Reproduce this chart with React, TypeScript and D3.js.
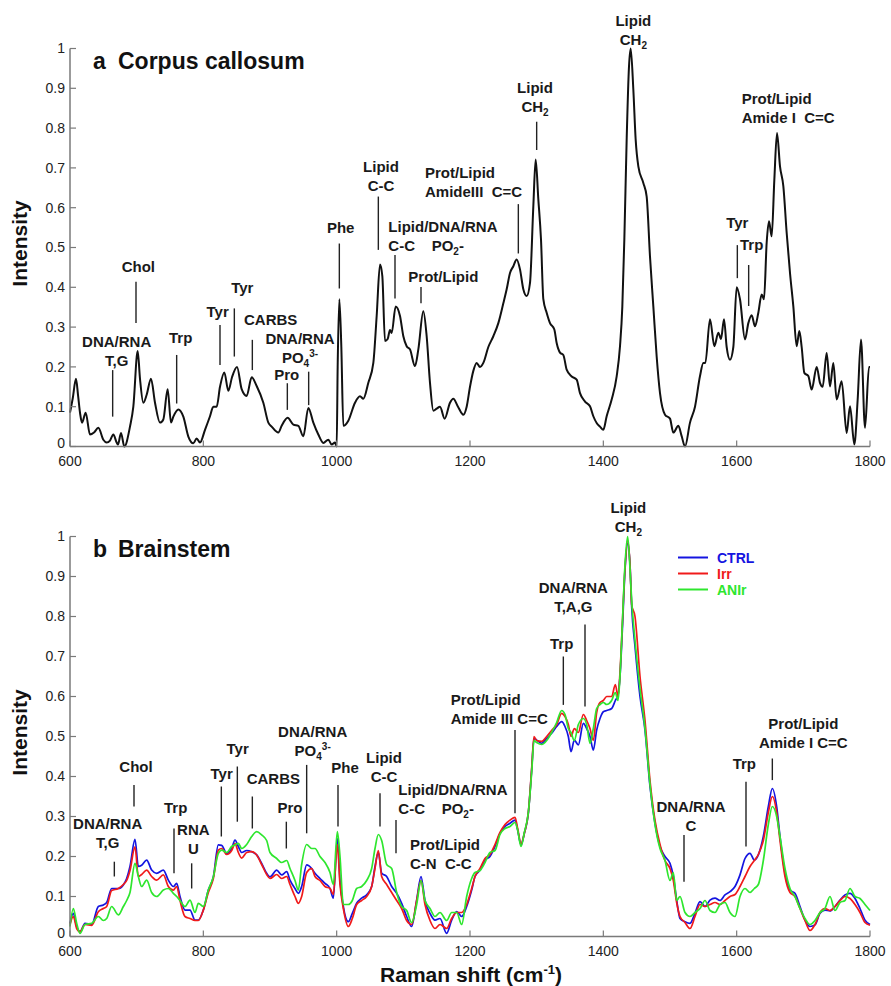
import React from 'react';
import * as d3 from 'd3';

// ---- axes ----
const shiftTicks = [600, 800, 1000, 1200, 1400, 1600, 1800];
const intensityTicks = [0, 0.1, 0.2, 0.3, 0.4, 0.5, 0.6, 0.7, 0.8, 0.9, 1];

// ---- panel a: corpus callosum (single spectrum) ----
const ccShift = [
  600, 604, 609, 612, 615, 618, 623.5, 630, 636, 642.5,
  650, 655, 660, 665, 670, 672, 676.5, 681.5, 690, 695,
  701.5, 705, 710, 715, 721.5, 727.5, 735, 740, 746.5, 751.5,
  755, 762.5, 770, 777.5, 785, 790, 795, 802.5, 810, 815,
  820, 825, 831.5, 837.5, 843, 850.5, 857.5, 865, 872.5, 880,
  890, 897.5, 902.5, 912.5, 917.5, 926.5, 935, 942.5, 950, 957.5,
  965, 972.5, 980, 987.5, 992.5, 997.5, 1000, 1001.5, 1004, 1007,
  1010, 1017.5, 1027.5, 1035, 1040, 1047.5, 1055, 1060, 1065, 1068.5,
  1072.5, 1076.5, 1080, 1082.5, 1088.5, 1095, 1100, 1105, 1110, 1117.5,
  1122.5, 1130, 1135, 1140, 1145, 1150, 1155, 1162, 1170, 1175,
  1182, 1190, 1195, 1200, 1205, 1210, 1215, 1220, 1227.5, 1235,
  1242.5, 1250, 1255, 1260, 1265, 1270, 1275, 1280, 1285, 1290,
  1295, 1298.5, 1302.5, 1306.5, 1310, 1315, 1320, 1326.5, 1330, 1335,
  1340, 1345, 1352.5, 1360, 1365, 1372.5, 1380, 1385, 1390, 1395,
  1400, 1405, 1412.5, 1420, 1425, 1428.5, 1431.5, 1435, 1438.5, 1441,
  1445, 1448.5, 1452.5, 1460, 1465, 1470, 1475, 1480, 1485, 1492.5,
  1500, 1505, 1512.5, 1517.5, 1522.5, 1530, 1537.5, 1545, 1550, 1553,
  1560, 1566.5, 1572.5, 1576.5, 1581, 1585, 1590, 1595, 1600, 1605,
  1612.5, 1617.5, 1622.5, 1627.5, 1632.5, 1637.5, 1641, 1645, 1648.5, 1652.5,
  1656.5, 1660.5, 1665, 1670, 1675, 1680, 1685, 1690, 1694, 1697.5,
  1701.5, 1707.5, 1712.5, 1720, 1725, 1729, 1735, 1740, 1745, 1750,
  1757.5, 1765, 1770, 1776.5, 1781.5, 1786.5, 1792.5, 1798.5, 1800,
];
const ccIntensity = [
  0.085, 0.12, 0.17, 0.13, 0.085, 0.06, 0.085, 0.03, 0.035, 0.047,
  0.017, 0.01, 0.015, 0.03, 0.01, 0.005, 0.034, 0.0, 0.05, 0.1,
  0.24, 0.17, 0.11, 0.13, 0.17, 0.11, 0.06, 0.068, 0.144, 0.06,
  0.075, 0.093, 0.075, 0.025, 0.008, 0.02, 0.01, 0.042, 0.076, 0.1,
  0.1, 0.15, 0.186, 0.14, 0.174, 0.2, 0.144, 0.127, 0.174, 0.152,
  0.11, 0.06, 0.05, 0.035, 0.052, 0.072, 0.055, 0.052, 0.026, 0.097,
  0.06, 0.03, 0.009, 0.017, 0.005, 0.01, 0.0, 0.2, 0.37, 0.25,
  0.052, 0.065, 0.11, 0.126, 0.12, 0.16, 0.21, 0.328, 0.457, 0.428,
  0.265, 0.27, 0.293, 0.285, 0.352, 0.328, 0.277, 0.252, 0.244, 0.202,
  0.244, 0.34, 0.277, 0.16, 0.09, 0.095, 0.1, 0.07, 0.11, 0.12,
  0.1, 0.08, 0.1, 0.15, 0.19, 0.21, 0.2, 0.21, 0.25, 0.277,
  0.31, 0.36, 0.395, 0.436, 0.453, 0.47, 0.445, 0.395, 0.378, 0.411,
  0.604, 0.721, 0.621, 0.52, 0.37, 0.336, 0.31, 0.294, 0.26, 0.236,
  0.23, 0.193, 0.176, 0.168, 0.134, 0.113, 0.101, 0.076, 0.059, 0.05,
  0.042, 0.076, 0.118, 0.176, 0.252, 0.352, 0.52, 0.771, 0.955, 1.0,
  0.897, 0.771, 0.704, 0.662, 0.628, 0.477, 0.352, 0.226, 0.134, 0.08,
  0.07, 0.035, 0.052, 0.026, 0.0, 0.06, 0.1, 0.177, 0.21, 0.21,
  0.32, 0.252, 0.286, 0.27, 0.32, 0.25, 0.218, 0.25, 0.4, 0.37,
  0.269, 0.31, 0.33, 0.302, 0.336, 0.382, 0.37, 0.512, 0.566, 0.528,
  0.67, 0.788, 0.704, 0.654, 0.537, 0.436, 0.352, 0.252, 0.29, 0.25,
  0.185, 0.177, 0.143, 0.2, 0.16, 0.15, 0.235, 0.151, 0.21, 0.118,
  0.164, 0.034, 0.101, 0.005, 0.118, 0.269, 0.047, 0.2, 0.2,
];

// ---- panel b: brainstem (three groups) ----
const bsShift = [
  600, 605, 610, 615, 622.5, 632.5, 642.5, 650, 655, 662.5,
  672.5, 680, 685, 690, 697.5, 702.5, 707.5, 715, 722.5, 730,
  740, 747.5, 755, 760, 765, 772.5, 780, 787.5, 792.5, 800,
  807.5, 815, 822.5, 827.5, 835, 842.5, 847.5, 852.5, 857.5, 865,
  872.5, 880, 887.5, 895, 900, 910, 917.5, 925, 930, 937.5,
  942.5, 947.5, 955, 962.5, 967.5, 975, 982.5, 990, 995, 1001,
  1005, 1010, 1017.5, 1023.5, 1030, 1037.5, 1045, 1052.5, 1057.5, 1062.5,
  1067.5, 1075, 1082.5, 1090, 1097.5, 1105, 1112.5, 1120, 1126.5, 1132.5,
  1140, 1147.5, 1155, 1165, 1172.5, 1180, 1187.5, 1195, 1202.5, 1207.5,
  1215, 1222.5, 1230, 1237.5, 1245, 1252.5, 1260, 1267.5, 1271.5, 1276.5,
  1281.5, 1287.5, 1292.5, 1296, 1300, 1307.5, 1315, 1322.5, 1330, 1337.5,
  1342.5, 1347.5, 1351.5, 1356.5, 1362.5, 1370, 1375, 1380, 1385, 1390,
  1395, 1400, 1405, 1412.5, 1418, 1422, 1425, 1428.5, 1432.5, 1436.5,
  1440, 1442.5, 1447.5, 1455, 1462.5, 1470, 1477.5, 1485, 1492.5, 1500,
  1505, 1510, 1515, 1522.5, 1530, 1537.5, 1545, 1552.5, 1560, 1567.5,
  1575, 1582.5, 1590, 1597.5, 1605, 1612.5, 1620, 1626.5, 1632.5, 1640,
  1647.5, 1653.5, 1660, 1665, 1672.5, 1680, 1687.5, 1695, 1702.5, 1710,
  1717.5, 1725, 1732.5, 1740, 1747.5, 1755, 1762.5, 1770, 1777.5, 1785,
  1792.5, 1800,
];
const bsCtrl = [
  0.033, 0.058, 0.025, 0.012, 0.033, 0.03, 0.075, 0.079, 0.085, 0.12,
  0.12, 0.129, 0.145, 0.175, 0.243, 0.175, 0.178, 0.191, 0.166, 0.158,
  0.166, 0.141, 0.125, 0.133, 0.1, 0.066, 0.066, 0.041, 0.041, 0.066,
  0.116, 0.149, 0.229, 0.228, 0.208, 0.22, 0.241, 0.225, 0.21, 0.215,
  0.212, 0.204, 0.183, 0.158, 0.149, 0.166, 0.154, 0.162, 0.141, 0.12,
  0.108, 0.125, 0.179, 0.17, 0.158, 0.145, 0.133, 0.12, 0.096, 0.245,
  0.141, 0.075, 0.037, 0.058, 0.083, 0.096, 0.104, 0.125, 0.175, 0.21,
  0.158, 0.15, 0.125, 0.108, 0.083, 0.05, 0.025, 0.091, 0.15, 0.09,
  0.058, 0.041, 0.045, 0.008, 0.041, 0.062, 0.05, 0.075, 0.116, 0.15,
  0.166, 0.191, 0.2, 0.225, 0.258, 0.275, 0.283, 0.291, 0.266, 0.229,
  0.258, 0.308, 0.416, 0.495, 0.491, 0.483, 0.495, 0.508, 0.525, 0.537,
  0.525, 0.5, 0.462, 0.491, 0.479, 0.533, 0.52, 0.5, 0.466, 0.516,
  0.545, 0.562, 0.565, 0.57, 0.59, 0.604, 0.65, 0.766, 0.916, 0.983,
  0.93, 0.825, 0.725, 0.6, 0.516, 0.375, 0.283, 0.225, 0.2, 0.183,
  0.15, 0.091, 0.045, 0.037, 0.033, 0.058, 0.087, 0.075, 0.091, 0.096,
  0.09, 0.104, 0.112, 0.125, 0.154, 0.195, 0.208, 0.191, 0.204, 0.25,
  0.325, 0.37, 0.325, 0.25, 0.158, 0.116, 0.108, 0.075, 0.041, 0.025,
  0.029, 0.058, 0.066, 0.064, 0.075, 0.091, 0.104, 0.108, 0.095, 0.07,
  0.041, 0.03,
];
const bsIrr = [
  0.03, 0.05, 0.02, 0.012, 0.03, 0.028, 0.062, 0.07, 0.075, 0.115,
  0.12, 0.13, 0.14, 0.165, 0.224, 0.15, 0.155, 0.166, 0.15, 0.141,
  0.154, 0.125, 0.116, 0.125, 0.09, 0.05, 0.045, 0.04, 0.04, 0.066,
  0.11, 0.145, 0.216, 0.22, 0.205, 0.215, 0.232, 0.21, 0.196, 0.21,
  0.212, 0.204, 0.18, 0.155, 0.145, 0.155, 0.145, 0.15, 0.13, 0.1,
  0.083, 0.1, 0.16, 0.17, 0.15, 0.14, 0.125, 0.12, 0.105, 0.23,
  0.13, 0.07, 0.025, 0.045, 0.08, 0.09, 0.1, 0.125, 0.17, 0.215,
  0.15, 0.13, 0.11, 0.09, 0.07, 0.04, 0.03, 0.09, 0.14, 0.08,
  0.04, 0.02, 0.03, 0.02, 0.045, 0.06, 0.06, 0.08, 0.12, 0.15,
  0.17, 0.195, 0.205, 0.23, 0.26, 0.28, 0.291, 0.298, 0.27, 0.232,
  0.258, 0.31, 0.42, 0.5, 0.49, 0.488, 0.5, 0.515, 0.53, 0.558,
  0.55, 0.53, 0.5, 0.52, 0.51, 0.555, 0.54, 0.52, 0.49, 0.56,
  0.585, 0.59, 0.6, 0.6, 0.63, 0.6, 0.66, 0.78, 0.92, 0.99,
  0.93, 0.83, 0.8, 0.65, 0.54, 0.39, 0.29, 0.23, 0.19, 0.17,
  0.14, 0.085, 0.05, 0.035, 0.02, 0.05, 0.08, 0.075, 0.08, 0.085,
  0.08, 0.09, 0.1, 0.105, 0.125, 0.15, 0.175, 0.19, 0.205, 0.24,
  0.31, 0.35, 0.31, 0.24, 0.15, 0.11, 0.1, 0.07, 0.04, 0.015,
  0.03, 0.06, 0.07, 0.065, 0.075, 0.09, 0.1, 0.095, 0.08, 0.06,
  0.035, 0.028,
];
const bsAnir = [
  0.025, 0.07, 0.033, 0.008, 0.03, 0.033, 0.05, 0.04, 0.045, 0.075,
  0.054, 0.075, 0.09, 0.11, 0.183, 0.15, 0.125, 0.141, 0.11, 0.1,
  0.116, 0.12, 0.108, 0.1, 0.09, 0.075, 0.091, 0.06, 0.083, 0.075,
  0.116, 0.149, 0.208, 0.216, 0.21, 0.225, 0.229, 0.233, 0.22, 0.23,
  0.25, 0.262, 0.254, 0.24, 0.21, 0.195, 0.185, 0.19, 0.17, 0.14,
  0.116, 0.18, 0.23, 0.22, 0.22, 0.2, 0.185, 0.16, 0.13, 0.262,
  0.2, 0.08, 0.08, 0.09, 0.12, 0.125, 0.14, 0.17, 0.22, 0.255,
  0.24, 0.18, 0.17, 0.11, 0.075, 0.065, 0.035, 0.08, 0.14, 0.09,
  0.07, 0.05, 0.06, 0.04, 0.06, 0.06, 0.03, 0.1, 0.145, 0.16,
  0.165, 0.185, 0.21, 0.215, 0.255, 0.27, 0.275, 0.285, 0.266, 0.225,
  0.26, 0.31, 0.41, 0.49, 0.485, 0.48, 0.49, 0.51, 0.535, 0.565,
  0.555, 0.52, 0.51, 0.49, 0.53, 0.545, 0.53, 0.483, 0.52, 0.57,
  0.58, 0.585, 0.58, 0.59, 0.61, 0.59, 0.65, 0.78, 0.93, 1.0,
  0.92, 0.84, 0.74, 0.62, 0.52, 0.38, 0.28, 0.22, 0.19, 0.14,
  0.16, 0.09, 0.1, 0.06, 0.05, 0.06, 0.07, 0.09, 0.065, 0.06,
  0.08, 0.085, 0.06, 0.05, 0.1, 0.12, 0.11, 0.12, 0.13, 0.19,
  0.28, 0.325, 0.3, 0.25, 0.17, 0.12, 0.1, 0.07, 0.045, 0.03,
  0.04, 0.06, 0.07, 0.1, 0.065, 0.085, 0.09, 0.12, 0.1, 0.095,
  0.08, 0.065,
];
const groupNames = ['CTRL', 'Irr', 'ANIr'];
const groupColors = ['#1414e0', '#f01a1a', '#2ee62e'];

// ---- band assignments: text anchor (shift, intensity of first baseline), pointer [shift, top, bottom] ----
type Note = { lines: string[]; at: [number, number]; start?: boolean; tick?: [number, number, number] };

const ccNotes: Note[] = [
  { lines: ['DNA/RNA', 'T,G'], at: [670, 0.251], tick: [664, 0.192, 0.075] },
  { lines: ['Chol'], at: [702.5, 0.439], tick: [699, 0.414, 0.31] },
  { lines: ['Trp'], at: [766, 0.259], tick: [760, 0.23, 0.108] },
  { lines: ['Tyr'], at: [821.5, 0.326], tick: [825, 0.305, 0.205] },
  { lines: ['Tyr'], at: [858.5, 0.385], tick: [846.5, 0.347, 0.226] },
  { lines: ['CARBS'], at: [901, 0.305], tick: [873.5, 0.268, 0.192] },
  { lines: ['DNA/RNA', 'PO_4^3-'], at: [945, 0.258], tick: [958, 0.188, 0.104] },
  { lines: ['Pro'], at: [925, 0.167], tick: [926, 0.159, 0.092] },
  { lines: ['Phe'], at: [1006, 0.536], tick: [1004, 0.51, 0.397] },
  { lines: ['Lipid', 'C-C'], at: [1066.5, 0.69], tick: [1062.5, 0.628, 0.494] },
  { lines: ['Lipid/DNA/RNA', 'C-C    PO_2-'], at: [1077.5, 0.54], start: true, tick: [1087.5, 0.481, 0.372] },
  { lines: ['Prot/Lipid'], at: [1107.5, 0.414], start: true, tick: [1126.5, 0.401, 0.36] },
  { lines: ['Prot/Lipid', 'AmideIII  C=C'], at: [1132.5, 0.674], start: true, tick: [1272.5, 0.609, 0.485] },
  { lines: ['Lipid', 'CH_2'], at: [1297.5, 0.889], tick: [1300, 0.816, 0.745] },
  { lines: ['Lipid', 'CH_2'], at: [1445, 1.057] },
  { lines: ['Tyr'], at: [1601, 0.548], tick: [1601, 0.506, 0.423] },
  { lines: ['Trp'], at: [1622.5, 0.494], tick: [1618, 0.456, 0.353] },
  { lines: ['Prot/Lipid', 'Amide I  C=C'], at: [1607.5, 0.861], start: true },
];

const bsNotes: Note[] = [
  { lines: ['DNA/RNA', 'T,G'], at: [656.5, 0.27], tick: [666.5, 0.187, 0.15] },
  { lines: ['Chol'], at: [699, 0.412], tick: [696, 0.379, 0.325] },
  { lines: ['Trp'], at: [758.5, 0.308], tick: [756, 0.27, 0.158] },
  { lines: ['RNA', 'U'], at: [785, 0.255], tick: [782.5, 0.183, 0.12] },
  { lines: ['Tyr'], at: [827.5, 0.394], tick: [827, 0.375, 0.25] },
  { lines: ['Tyr'], at: [851.5, 0.456], tick: [851, 0.425, 0.287] },
  { lines: ['CARBS'], at: [905, 0.381], tick: [873.5, 0.35, 0.27] },
  { lines: ['Pro'], at: [930, 0.308], tick: [924.5, 0.287, 0.22] },
  { lines: ['DNA/RNA', 'PO_4^3-'], at: [964, 0.5], tick: [955, 0.429, 0.258] },
  { lines: ['Phe'], at: [1012.5, 0.408], tick: [1002, 0.379, 0.275] },
  { lines: ['Lipid', 'C-C'], at: [1071, 0.433], tick: [1065, 0.358, 0.275] },
  { lines: ['Lipid/DNA/RNA', 'C-C    PO_2-'], at: [1092.5, 0.354], start: true, tick: [1089, 0.291, 0.208] },
  { lines: ['Prot/Lipid', 'C-N  C-C'], at: [1110, 0.216], start: true },
  { lines: ['Prot/Lipid', 'Amide III C=C'], at: [1171, 0.579], start: true, tick: [1267.5, 0.516, 0.308] },
  { lines: ['Trp'], at: [1337.5, 0.718], tick: [1340, 0.7, 0.579] },
  { lines: ['DNA/RNA', 'T,A,G'], at: [1355, 0.858], tick: [1372.5, 0.78, 0.575] },
  { lines: ['Lipid', 'CH_2'], at: [1437.5, 1.058] },
  { lines: ['DNA/RNA', 'C'], at: [1531.5, 0.312], tick: [1521, 0.254, 0.137] },
  { lines: ['Trp'], at: [1611.5, 0.42], tick: [1614, 0.387, 0.225] },
  { lines: ['Prot/Lipid', 'Amide I C=C'], at: [1700, 0.52], tick: [1653.5, 0.445, 0.391] },
];

const FONT = '"Liberation Sans", Arial, Helvetica, sans-serif';
const LEFT = 70;
const RIGHT = 870;

// "_x" -> subscript, "^xyz" -> superscript
function richParts(s: string) {
  const out: { t: string; shift: number }[] = [];
  const re = /_(\d)|\^(\S+)|([^_^]+)/g;
  let m: RegExpExecArray | null;
  while ((m = re.exec(s))) {
    if (m[1]) out.push({ t: m[1], shift: 4 });
    else if (m[2]) out.push({ t: m[2], shift: -6 });
    else out.push({ t: m[3], shift: 0 });
  }
  return out;
}

function RichLine({ text, x, y, anchor }: { text: string; x: number; y: number; anchor: string }) {
  let prev = 0;
  return (
    <text x={x} y={y} textAnchor={anchor} style={{ whiteSpace: 'pre' }}>
      {richParts(text).map((p, i) => {
        const dy = p.shift - prev;
        prev = p.shift;
        return (
          <tspan key={i} dy={dy} fontSize={p.shift ? 10 : 15}>
            {p.t}
          </tspan>
        );
      })}
    </text>
  );
}

type Series = { shift: number[]; values: number[]; color: string; width: number };

function Panel({ yZero, yOne, tag, title, series, notes, legend }: {
  yZero: number; yOne: number; tag: string; title: string; series: Series[]; notes: Note[]; legend?: boolean;
}) {
  const x = d3.scaleLinear().domain([600, 1800]).range([LEFT, RIGHT]);
  const y = d3.scaleLinear().domain([0, 1]).range([yZero, yOne]);
  const axisColor = '#7a7a7a';

  return (
    <g>
      {/* curves */}
      {series.map((s, k) => {
        const line = d3.line<number>()
          .x((_, i) => x(s.shift[i]))
          .y(d => y(d))
          .curve(d3.curveMonotoneX);
        return (
          <path key={k} d={line(s.values) || ''} fill="none" stroke={s.color}
            strokeWidth={s.width} strokeLinejoin="round" />
        );
      })}

      {/* axes */}
      <line x1={LEFT} x2={RIGHT} y1={yZero} y2={yZero} stroke={axisColor} strokeWidth={1.5} />
      <line x1={LEFT} x2={LEFT} y1={yZero} y2={yOne} stroke={axisColor} strokeWidth={1.5} />
      {shiftTicks.map(t => (
        <g key={t}>
          <line x1={x(t)} x2={x(t)} y1={yZero} y2={yZero - 6} stroke={axisColor} strokeWidth={1.2} />
          <text x={x(t)} y={yZero + 19} textAnchor="middle" fontSize={14} fill="#222">{t}</text>
        </g>
      ))}
      {intensityTicks.map(t => (
        <g key={t}>
          <line x1={LEFT} x2={LEFT + 6} y1={y(t)} y2={y(t)} stroke={axisColor} strokeWidth={1.2} />
          <text x={LEFT - 5} y={y(t) - (t === 0 ? 3 : 0)} dy="0.35em" textAnchor="end" fontSize={14} fill="#222">
            {d3.format('~g')(t)}
          </text>
        </g>
      ))}
      <text transform={`translate(27,${(yZero + yOne) / 2 - 4}) rotate(-90)`} textAnchor="middle"
        fontSize={21} fontWeight="bold" fill="#111">Intensity</text>

      {/* title */}
      <text x={93} y={yOne + 20} fontSize={23} fontWeight="bold" fill="#111">{tag}</text>
      <text x={118} y={yOne + 20} fontSize={23} fontWeight="bold" fill="#111">{title}</text>

      {/* band labels */}
      <g fontWeight="bold" fill="#1a1a1a">
        {notes.map((n, i) => (
          <g key={i}>
            {n.lines.map((ln, j) => (
              <RichLine key={j} text={ln} x={x(n.at[0])} y={y(n.at[1]) + j * 19}
                anchor={n.start ? 'start' : 'middle'} />
            ))}
            {n.tick && (
              <line x1={x(n.tick[0])} x2={x(n.tick[0])} y1={y(n.tick[1])} y2={y(n.tick[2])}
                stroke="#222" strokeWidth={1.4} />
            )}
          </g>
        ))}
      </g>

      {legend && (
        <g fontWeight="bold" fontSize={14}>
          {groupNames.map((g, i) => (
            <g key={g}>
              <line x1={678} x2={708} y1={yOne + 21 + i * 16} y2={yOne + 21 + i * 16}
                stroke={groupColors[i]} strokeWidth={2} />
              <text x={717} y={yOne + 26 + i * 16} fill={groupColors[i]}>{g}</text>
            </g>
          ))}
        </g>
      )}
    </g>
  );
}

export default function App() {
  const bsSeries: Series[] = [bsCtrl, bsIrr, bsAnir].map((v, i) => ({
    shift: bsShift, values: v, color: groupColors[i], width: 1.7,
  }));
  return (
    <svg width={891} height={986} viewBox="0 0 891 986"
      style={{ position: 'absolute', left: 0, top: 0, background: '#fff', fontFamily: FONT }}>
      <rect width={891} height={986} fill="#fff" />
      <Panel yZero={446.5} yOne={48.5} tag="a" title="Corpus callosum"
        series={[{ shift: ccShift, values: ccIntensity, color: '#111', width: 2 }]} notes={ccNotes} />
      <Panel yZero={936.5} yOne={536.5} tag="b" title="Brainstem"
        series={bsSeries} notes={bsNotes} legend />
      <text x={471} y={982} textAnchor="middle" fontSize={21} fontWeight="bold" fill="#111">
        Raman shift (cm
        <tspan dy={-8} fontSize={13}>-1</tspan>
        <tspan dy={8}>)</tspan>
      </text>
    </svg>
  );
}
